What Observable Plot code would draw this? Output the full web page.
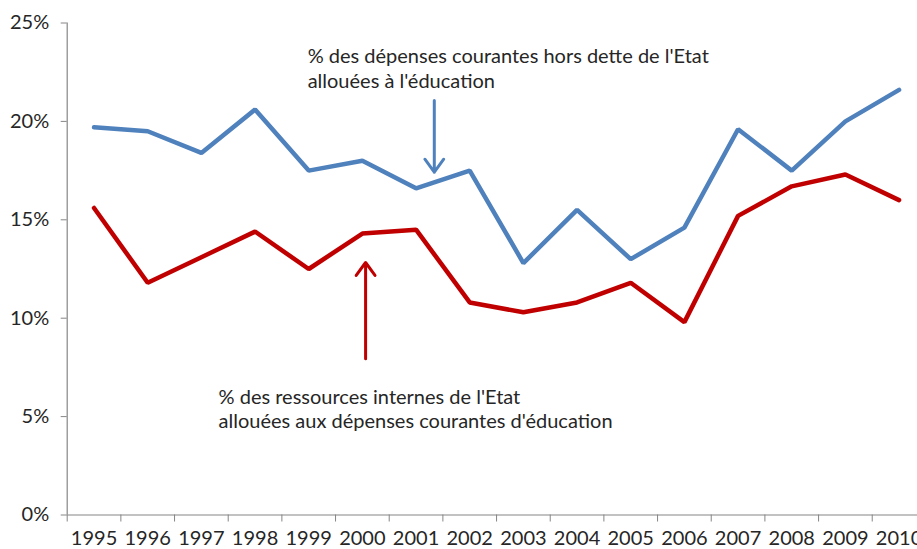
<!DOCTYPE html>
<html>
<head>
<meta charset="utf-8">
<script src="https://cdn.jsdelivr.net/npm/d3@7"></script>
<script src="https://cdn.jsdelivr.net/npm/@observablehq/plot@0.6"></script>
<style>
  html, body { margin: 0; padding: 0; background: #fff; overflow: hidden; }
  #chart svg { display: block; }
</style>
</head>
<body>
<div id="chart"></div>
<script>
const years = [1995,1996,1997,1998,1999,2000,2001,2002,2003,2004,2005,2006,2007,2008,2009,2010];
const depensesHorsDette = [19.7,19.5,18.4,20.6,17.5,18.0,16.6,17.5,12.8,15.5,13.0,14.6,19.6,17.5,20.0,21.6];
const ressourcesInternes = [15.6,11.8,13.1,14.4,12.5,14.3,14.5,10.8,10.3,10.8,11.8,9.8,15.2,16.7,17.3,16.0];
const yTicks = [0,5,10,15,20,25];
const labelBlue = ["% des dépenses courantes hors dette de l'Etat", "allouées à l'éducation"];
const labelRed = ["% des ressources internes de l'Etat", "allouées aux dépenses courantes d'éducation"];
// annotation anchors (data coordinates: year, percent)
const annBlue = {x: 1998.98, y: 22.74, ax: 2001.34, ay1: 21.06, ay2: 17.42};
const annRed = {x: 1997.32, y: 5.44, ax: 2000.06, ay1: 7.94, ay2: 12.83};

const blue = "#4F81BD";
const red = "#C00000";
const axisGray = "#868686";
const textColor = "#262626";
const font = "Lato, 'Open Sans', 'Liberation Sans', Arial, sans-serif";

const blueData = years.map((yr, i) => ({year: yr, v: depensesHorsDette[i]}));
const redData = years.map((yr, i) => ({year: yr, v: ressourcesInternes[i]}));
const halfTicks = [years[0] - 0.5, ...years.map(y => y + 0.5)];

const chart = Plot.plot({
  width: 917,
  height: 549,
  marginLeft: 66.7,
  marginRight: -8.4,
  marginTop: 22.5,
  marginBottom: 34.5,
  style: {fontFamily: font, fontSize: "20px", color: textColor, background: "#fff", overflow: "visible"},
  x: {type: "linear", domain: [years[0] - 0.5, years[years.length - 1] + 0.5]},
  y: {domain: [0, 25]},
  marks: [
    Plot.ruleY([0], {stroke: axisGray, strokeWidth: 1.2}),
    Plot.ruleX([years[0] - 0.5], {y1: 0, y2: 25, stroke: axisGray, strokeWidth: 1.2}),
    Plot.axisY({ticks: yTicks, tickFormat: d => d + "%", tickSize: 6, tickPadding: 12, stroke: axisGray, fill: textColor, fontSize: 20, label: null}),
    Plot.axisX({ticks: halfTicks, tickFormat: () => "", tickSize: 7, stroke: axisGray, label: null}),
    Plot.axisX({ticks: years, tickFormat: d => String(d), tickSize: 0, tickPadding: 16, fill: textColor, fontSize: 20, label: null}),
    Plot.line(blueData, {x: "year", y: "v", stroke: blue, strokeWidth: 4.5, strokeLinejoin: "miter", strokeLinecap: "round"}),
    Plot.line(redData, {x: "year", y: "v", stroke: red, strokeWidth: 4.5, strokeLinejoin: "miter", strokeLinecap: "round"}),
    Plot.arrow([annBlue], {x1: "ax", x2: "ax", y1: "ay1", y2: "ay2", stroke: blue, strokeWidth: 3, headLength: 8, headAngle: 72, bend: 0}),
    Plot.arrow([annRed], {x1: "ax", x2: "ax", y1: "ay1", y2: "ay2", stroke: red, strokeWidth: 3, headLength: 8, headAngle: 72, bend: 0}),
    Plot.text([annBlue], {x: "x", y: "y", text: () => labelBlue.join("\n"), textAnchor: "start", lineAnchor: "middle", lineHeight: 1.23, fill: textColor, fontSize: 20}),
    Plot.text([annRed], {x: "x", y: "y", text: () => labelRed.join("\n"), textAnchor: "start", lineAnchor: "middle", lineHeight: 1.23, fill: textColor, fontSize: 20})
  ]
});
document.getElementById("chart").appendChild(chart);
</script>
</body>
</html>
